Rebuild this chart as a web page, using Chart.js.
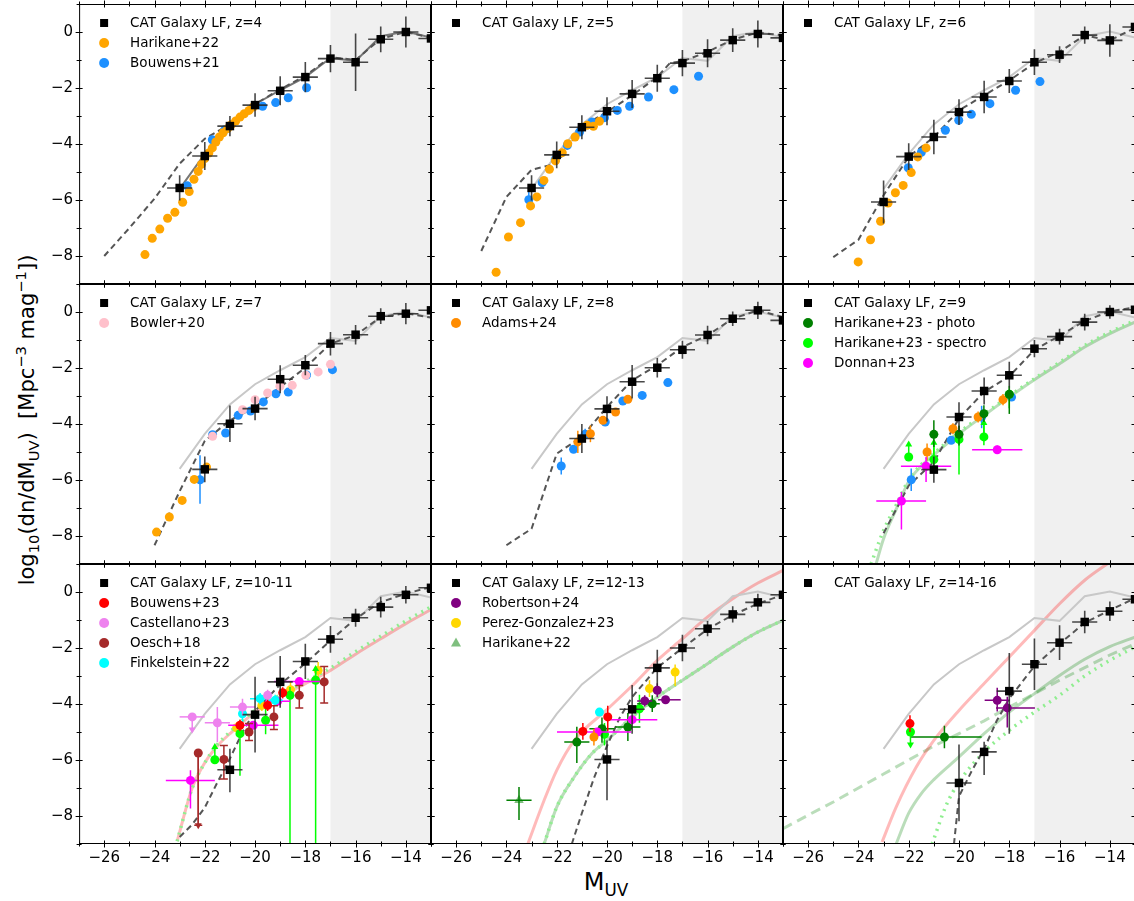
<!DOCTYPE html>
<html>
<head>
<meta charset="utf-8">
<script src="https://cdn.jsdelivr.net/npm/chart.js@4.4.1/dist/chart.umd.min.js"></script>
<style>
  body { margin: 0; width: 1134px; height: 901px; overflow: hidden; background: #fff; position: relative;
         font-family: "DejaVu Sans", sans-serif; color: #000; }
  canvas { position: absolute; }
  #xlabel { position: absolute; left: 606px; top: 884px; transform: translate(-50%, -50%); font-size: 24px; white-space: nowrap; }
  #ylabel { position: absolute; left: 27px; top: 420px; transform: translate(-50%, -50%) rotate(-90deg); font-size: 21px; white-space: nowrap; }
  sub, sup { font-size: 70%; }
</style>
</head>
<body>
<div id="xlabel">M<sub>UV</sub></div>
<div id="ylabel">log<sub>10</sub>(dn/dM<sub>UV</sub>)&nbsp;&nbsp;[Mpc<sup>&minus;3</sup> mag<sup>&minus;1</sup>])</div>
<script>
// ---- axes ----
var x_range = [-27, -13];
var y_range = [-9, 1];
var x_tick_labels = [-26, -24, -22, -20, -18, -16, -14];
var y_tick_labels = [-8, -6, -4, -2, 0];
var faint_limit = -17;

// ---- light grey reference LF (same in every panel) ----
var ref_mag = [-23, -22, -21, -20, -19, -18, -17, -16, -15, -14, -13];
var ref_phi = [-5.6, -4.35, -3.3, -2.58, -2.08, -1.61, -0.93, -1.03, -0.15, 0.02, -0.2];

// ---- CAT galaxy LF points (mag, log phi, y error) ----
var cat_mag_z4 = [-23, -22, -21, -20, -19, -18, -17, -16, -15, -14, -13];
var cat_phi_z4 = [-5.57, -4.43, -3.36, -2.61, -2.10, -1.61, -0.95, -1.08, -0.26, 0.0, -0.23];
var cat_err_z4 = [0.45, 0.5, 0.36, 0.42, 0.52, 0.54, 0.49, 1.03, 0.46, 0.55, 0.3];

var cat_mag_z5 = [-23, -22, -21, -20, -19, -18, -17, -16, -15, -14, -13];
var cat_phi_z5 = [-5.57, -4.39, -3.40, -2.83, -2.21, -1.65, -1.11, -0.76, -0.29, -0.07, -0.21];
var cat_err_z5 = [0.45, 0.48, 0.43, 0.5, 0.5, 0.48, 0.47, 0.5, 0.42, 0.48, 0.3];

var cat_mag_z6 = [-23, -22, -21, -20, -19, -18, -17, -16, -15, -14, -13];
var cat_phi_z6 = [-6.07, -4.45, -3.75, -2.86, -2.32, -1.75, -1.08, -0.81, -0.11, -0.30, 0.18];
var cat_err_z6 = [0.77, 0.48, 0.62, 0.46, 0.58, 0.43, 0.46, 0.3, 0.31, 0.58, 0.3];

var cat_mag_z7 = [-22, -21, -20, -19, -18, -17, -16, -15, -14, -13];
var cat_phi_z7 = [-5.62, -3.99, -3.45, -2.40, -1.90, -1.13, -0.81, -0.15, -0.06, 0.06];
var cat_err_z7 = [0.46, 0.65, 0.42, 0.5, 0.36, 0.42, 0.35, 0.28, 0.38, 0.3];

var cat_mag_z8 = [-21, -20, -19, -18, -17, -16, -15, -14, -13];
var cat_phi_z8 = [-4.52, -3.46, -2.49, -1.99, -1.35, -0.82, -0.24, 0.06, -0.30];
var cat_err_z8 = [0.52, 0.45, 0.6, 0.35, 0.32, 0.33, 0.26, 0.31, 0.25];

var cat_mag_z9 = [-21, -20, -19, -18, -17, -16, -15, -14, -13];
var cat_phi_z9 = [-5.63, -3.75, -2.82, -2.26, -1.31, -0.88, -0.36, 0.0, 0.08];
var cat_err_z9 = [0.47, 0.53, 0.48, 0.48, 0.31, 0.28, 0.3, 0.24, 0.2];

var cat_mag_z10 = [-21, -20, -19, -18, -17, -16, -15, -14, -13];
var cat_phi_z10 = [-6.35, -4.38, -3.21, -2.48, -1.69, -0.92, -0.54, -0.10, 0.15];
var cat_err_z10 = [[0.8, 0.75], 1.35, 0.92, 0.63, 0.48, 0.32, 0.37, 0.31, 0.3];

var cat_mag_z12 = [-20, -19, -18, -17, -16, -15, -14, -13];
var cat_phi_z12 = [-5.98, -4.19, -2.71, -2.0, -1.31, -0.80, -0.37, -0.10];
var cat_err_z12 = [[1.46, 0.68], 0.87, 0.65, 0.47, 0.27, 0.29, 0.31, 0.2];

var cat_mag_z14 = [-20, -19, -18, -17, -16, -15, -14, -13];
var cat_phi_z14 = [-6.82, -5.71, -3.54, -2.58, -1.81, -1.07, -0.69, -0.26];
var cat_err_z14 = [1.37, [0.83, 0.36], [1.52, 1.36], 0.92, 0.62, 0.4, 0.35, 0.2];

// ---- dashed model curves ----
var model_mag_z4 = [-26, -25, -24, -23, -22, -21, -20, -19, -18, -17, -16, -15, -14, -13];
var model_phi_z4 = [-8.0, -7.0, -5.95, -4.7, -3.81, -3.3, -2.57, -2.05, -1.56, -0.9, -1.0, -0.24, 0.0, -0.2];
var model_mag_z5 = [-25, -24, -23, -22, -21, -20, -19, -18, -17.5, -17, -16, -15, -14, -13];
var model_phi_z5 = [-7.82, -5.89, -4.92, -4.70, -3.38, -2.86, -2.26, -1.61, -1.11, -1.05, -0.71, -0.27, -0.02, -0.12];
var model_mag_z6 = [-25, -24, -23, -22, -21, -20, -19, -18, -17, -16, -15, -14, -13];
var model_phi_z6 = [-8.04, -7.42, -5.83, -4.46, -3.75, -2.80, -2.26, -1.73, -1.11, -0.71, -0.12, -0.30, 0.15];
var model_mag_z7 = [-24, -23, -22, -21, -20, -19, -18, -17, -16, -15, -14, -13];
var model_phi_z7 = [-8.33, -6.4, -4.6, -3.87, -3.39, -2.68, -1.99, -1.13, -0.83, -0.18, -0.04, -0.2];
var model_mag_z8 = [-24, -23, -22, -21, -20, -19, -18, -17, -16, -15, -14, -13];
var model_phi_z8 = [-8.33, -7.74, -5.06, -4.46, -3.39, -2.44, -1.90, -1.25, -0.83, -0.24, 0.06, -0.18];
var model_mag_z9 = [-23, -22, -21, -20, -19, -18, -17, -16, -15, -14, -13];
var model_phi_z9 = [-7.9, -6.2, -5.35, -3.8, -2.85, -2.3, -1.35, -0.85, -0.32, 0.02, 0.17];
var model_mag_z10 = [-23, -22.5, -22, -21.5, -21, -20.5, -20, -19, -18, -17, -16, -15, -14, -13];
var model_phi_z10 = [-8.75, -8.3, -7.7, -6.8, -5.95, -5.0, -4.25, -3.3, -2.55, -1.73, -0.95, -0.36, -0.06, 0.18];
var model_mag_z12 = [-21.4, -21, -20.5, -20, -19.5, -19, -18, -17, -16, -15, -14, -13];
var model_phi_z12 = [-9.0, -7.9, -6.6, -5.5, -4.5, -3.75, -2.7, -2.0, -1.33, -0.82, -0.42, -0.1];
var model_mag_z14 = [-20.2, -20, -19.5, -19, -18.5, -18, -17, -16, -15, -14, -13];
var model_phi_z14 = [-9.0, -7.3, -6.4, -5.6, -4.6, -3.8, -2.65, -1.85, -1.1, -0.65, -0.22];

// ---- literature fits (red / green curves) ----
var green_mag_z9 = [-23.3, -23, -22.5, -22, -21.5, -21, -20, -19, -18, -17, -16, -15, -14, -13];
var green_phi_z9 = [-9.0, -8.1, -7.05, -6.05, -5.5, -5.1, -4.35, -3.69, -3.04, -2.42, -1.85, -1.25, -0.77, -0.36];
var dotted_mag_z9 = [-23.5, -23, -22.5, -22, -21.5, -21, -20, -19, -18, -17, -16, -15, -14, -13];
var dotted_phi_z9 = [-9.0, -7.8, -6.9, -6.0, -5.45, -5.05, -4.3, -3.65, -3.0, -2.38, -1.8, -1.2, -0.72, -0.3];

var red_mag_z10 = [-23.1, -22.5, -22, -21.5, -21, -20, -19, -18, -17, -16, -15, -14, -13];
var red_phi_z10 = [-8.9, -7.0, -6.1, -5.5, -5.06, -4.29, -3.75, -3.27, -2.80, -2.22, -1.67, -1.13, -0.63];
var dotted_mag_z10 = [-23.1, -22.5, -22, -21.5, -21, -20, -19, -18, -17, -16, -15, -14, -13];
var dotted_phi_z10 = [-8.9, -7.0, -6.1, -5.45, -5.0, -4.22, -3.68, -3.2, -2.72, -2.13, -1.58, -1.03, -0.53];

var red_mag_z12 = [-23.15, -22.5, -22, -21.3, -20, -19, -18, -17, -16, -15, -14, -13];
var red_phi_z12 = [-9.0, -7.44, -6.37, -5.3, -4.2, -3.35, -2.44, -1.67, -0.89, -0.24, 0.32, 0.77];
var green_mag_z12 = [-22.5, -22, -21.3, -20.6, -20, -19, -18, -17, -16, -15, -14, -13];
var green_phi_z12 = [-9.0, -7.68, -6.6, -5.77, -5.3, -4.46, -3.75, -3.15, -2.56, -1.96, -1.43, -1.01];

var red_mag_z14 = [-23.06, -22.5, -21.7, -21, -20, -19, -18, -17, -16, -15, -14.1];
var red_phi_z14 = [-8.93, -7.68, -6.25, -5.3, -4.23, -3.27, -2.32, -1.37, -0.42, 0.42, 1.01];
var green_mag_z14 = [-22.5, -22, -21.5, -21, -20, -19, -18, -17, -16, -15, -14, -13];
var green_phi_z14 = [-9.0, -7.9, -7.2, -6.7, -5.89, -5.06, -4.29, -3.63, -2.98, -2.4, -1.95, -1.61];
var gdash_mag_z14 = [-27, -26, -25, -24, -23, -22, -21, -20, -19, -18, -17, -16, -15, -14, -13];
var gdash_phi_z14 = [-8.45, -7.97, -7.5, -7.0, -6.5, -6.0, -5.5, -5.06, -4.6, -4.11, -3.63, -3.15, -2.7, -2.25, -1.85];
var dotted_mag_z14 = [-21.07, -20.5, -20, -19, -18, -17, -16, -15, -14, -13];
var dotted_phi_z14 = [-9.0, -7.6, -6.79, -5.71, -4.94, -4.29, -3.69, -3.0, -2.44, -1.96];

// ---- observations: [mag, log phi, yerr lo, yerr hi, xerr lo, xerr hi, limit] ----
var harikane22_z4 = [[-24.38, -7.95], [-24.09, -7.37], [-23.79, -7.04], [-23.48, -6.65], [-23.19, -6.44],
    [-22.88, -6.08], [-22.62, -5.70], [-22.43, -5.26], [-22.26, -4.98], [-22.13, -4.73], [-22.0, -4.52],
    [-21.84, -4.32], [-21.70, -4.14], [-21.56, -3.93], [-21.42, -3.75], [-21.27, -3.60], [-21.09, -3.45],
    [-20.93, -3.30], [-20.77, -3.18], [-20.60, -3.04], [-20.43, -2.92], [-20.24, -2.80], [-20.07, -2.68]];
var bouwens21_z4 = [[-22.70, -5.49], [-21.70, -3.85], [-21.20, -3.49], [-19.70, -2.65], [-19.18, -2.52],
    [-18.68, -2.35], [-17.95, -1.99]];

var harikane22_z5 = [[-24.41, -8.58], [-23.92, -7.32], [-23.44, -6.81], [-23.04, -6.21], [-22.79, -5.89],
    [-22.51, -5.30], [-22.29, -4.90], [-22.05, -4.6], [-21.78, -4.31], [-21.56, -3.99], [-21.27, -3.75],
    [-20.79, -3.33], [-20.54, -3.37], [-20.30, -3.19]];
var bouwens21_z5 = [[-23.11, -5.99, 0.3, 0.3], [-22.58, -5.38], [-22.06, -4.56], [-21.58, -4.05], [-21.09, -3.57],
    [-20.60, -3.21], [-20.10, -3.06], [-19.59, -2.80], [-19.10, -2.65], [-18.35, -2.32], [-17.34, -2.06], [-16.36, -1.58]];

var harikane22_z6 = [[-24.01, -8.21], [-23.52, -7.42], [-23.12, -6.76], [-22.82, -6.11], [-22.53, -5.74],
    [-22.22, -5.48], [-21.90, -5.02], [-21.64, -4.46], [-21.31, -4.14]];
var bouwens21_z6 = [[-22.02, -4.85], [-21.50, -4.30], [-20.54, -3.51], [-20.01, -3.15], [-19.51, -2.94],
    [-18.77, -2.56], [-17.75, -2.08], [-16.78, -1.77]];

var harikane22_z7 = [[-23.92, -7.86], [-23.41, -7.32], [-22.90, -6.73], [-22.42, -5.98], [-21.93, -5.54]];
var bowler20_z7 = [[-21.69, -4.44], [-20.50, -3.49], [-20.0, -3.13], [-19.50, -2.89], [-19.01, -2.65],
    [-18.52, -2.62], [-17.98, -2.26], [-17.49, -2.14], [-17.0, -1.87]];
var bouwens21_z7 = [[-22.19, -5.99, 0.86, 0.87], [-21.69, -4.38], [-21.17, -4.32], [-20.67, -3.69], [-20.18, -3.54],
    [-19.67, -3.21], [-19.17, -2.92], [-18.68, -2.86], [-17.95, -2.25], [-16.92, -2.06]];

var adams24_z8 = [[-21.16, -4.64, 0.4, 0.4], [-20.66, -4.35, 0.3, 0.3], [-20.16, -3.87], [-19.66, -3.57], [-19.17, -3.12]];
var bouwens21_z8 = [[-21.82, -5.50, 0.3, 0.3], [-21.33, -4.90], [-20.87, -4.37, 0.2, 0.2], [-20.07, -3.93],
    [-19.37, -3.18], [-18.60, -2.98], [-17.58, -2.52]];

var harikane23p_z9 = [[-21.0, -4.37, 0.45, 0.5], [-20.0, -4.37, 0.4, 0.3], [-19.01, -3.63, 0.3, 0.3], [-18.0, -2.94, 0.7, 0.2]];
var harikane23s_z9 = [[-22.0, -5.18, 0, 0, 0, 0, 'up'], [-21.0, -5.27, 0.3, 0.6, 0, 0, 'up'], [-20.0, -4.55, 1.25, 0.5],
    [-19.01, -4.46, 0.3, 0.5, 0, 0, 'up'], [-18.0, -2.94, 0.5, 0.3]];
var donnan23_z9 = [[-22.29, -6.75, 1.02, 0.32, 1.0, 0.98], [-21.31, -5.51, 0.56, 0.33, 1.0, 1.0], [-18.48, -4.92, 0.15, 0.15, 1.0, 1.0]];
var adams24_z9 = [[-21.27, -5.0, 0.3, 0.3], [-20.24, -4.17, 0.2, 0.2], [-19.24, -3.75, 0.2, 0.2], [-18.25, -3.13, 0.2, 0.2]];
var bouwens_z9 = [[-21.90, -5.99, 0.4, 0.4], [-20.31, -4.58], [-19.10, -3.75, 0.4, 0.4], [-17.91, -3.04]];

var bouwens23_z10 = [[-20.6, -4.76, 0.2, 0.2], [-19.5, -4.05, 0.2, 0.2], [-18.9, -3.6, 0.2, 0.2]];
var castellano23_z10 = [[-22.5, -4.46, 0, 0, 0.5, 0.5, 'down'], [-21.5, -4.67, 0.69, 0.56, 0.5, 0.5],
    [-20.5, -4.11, 0.3, 0.3, 0.5, 0.5], [-19.5, -3.69, 0.2, 0.2]];
var oesch18_z10 = [[-22.26, -5.75, 2.58, 0, 0, 0, 'down'], [-21.24, -5.98, 0.7, 0.5], [-20.24, -5.0, 0.3, 0.3],
    [-19.25, -4.46, 0.45, 0.4], [-18.24, -3.69, 0.45, 0.35], [-17.25, -3.21, 0.75, 0.55]];
var finkelstein22_z10 = [[-20.5, -4.35, 0.3, 0.3], [-19.8, -3.81, 0.2, 0.2, 0.4, 0.4], [-19.2, -3.87, 0.2, 0.2, 0.3, 0.3]];
var donnan23_z10 = [[-22.57, -6.73, 1.0, 0.36, 0.98, 0.97], [-20.07, -4.76, 0, 0, 1.0, 1.0], [-19.1, -3.9, 0, 0, 0.5, 0.5],
    [-18.24, -3.2, 0, 0, 1.0, 1.0]];
var harikane23s_z10 = [[-21.6, -5.99, 0, 0, 0, 0, 'up'], [-20.6, -5.06, 1.5, 0.5], [-19.58, -4.58, 0.5, 0.5],
    [-18.61, -3.69, 6.0, 0.3], [-17.59, -3.15, 6.0, 0.4, 0, 0, 'up']];
var orange_z10 = [[-20.73, -4.85, 0.2, 0.2], [-19.73, -4.05, 0.2, 0.2], [-18.59, -3.49, 0.3, 0.3], [-17.49, -2.8, 0.3, 0.3]];

var robertson24_z12 = [[-18.5, -3.89, 0.2, 0.2, 0.3, 0.3], [-18.0, -3.51, 0.25, 0.25], [-17.67, -3.85, 0, 0, 0.3, 0.6]];
var perez23_z12 = [[-17.29, -2.86, 0.5, 0.27], [-18.31, -3.45, 0.3, 0.3]];
var harikane22_z12 = [[-23.5, -7.44, 0.7, 0.48, 0.5, 0.5]];
var red_pts_z12 = [[-20.96, -4.98, 0.3, 0.3], [-19.97, -4.46, 0.5, 0.4]];
var cyan_pts_z12 = [[-20.30, -4.29]];
var orange_pts_z12 = [[-20.52, -5.18, 0.3, 0.3]];
var magenta_pts_z12 = [[-20.39, -5.0, 0, 0, 1.6, 1.35], [-19.0, -4.56, 0, 0, 1.0, 1.0]];
var green_pts_z12 = [[-21.2, -5.36, 0.75, 0.55, 0.5, 0.5], [-20.2, -4.88, 0.5, 0.4, 0.5, 0.5],
    [-19.17, -4.82, 0.5, 0.5, 0.5, 0.5], [-18.2, -3.99, 0.3, 0.3, 0.6, 0.3]];
var lime_pts_z12 = [[-20.1, -5.08, 0.4, 0.4], [-18.71, -4.17, 0.5, 0.5]];

var red_pts_z14 = [[-21.95, -4.70, 0.3, 0.3]];
var lime_pts_z14 = [[-21.93, -5.0, 0, 0, 0, 0, 'down']];
var green_pts_z14 = [[-20.58, -5.18, 0.4, 0.4, 1.36, 1.48]];
var purple_pts_z14 = [[-18.48, -3.87, 0.4, 0.45, 0.5, 0.5], [-18.08, -4.14, 0.7, 0.4, 0.45, 1.1]];

// ---- colours ----
var c_orange = '#ffa500', c_blue = '#1e90ff', c_pink = '#ffc0cb', c_dorange = '#ff8c00';
var c_green = '#008000', c_lime = '#00ff00', c_magenta = '#ff00ff', c_red = '#ff0000';
var c_violet = '#ee82ee', c_brown = '#a52a2a', c_cyan = '#00ffff', c_purple = '#800080', c_gold = '#ffd700';
var c_tri = 'rgba(0,128,0,0.5)';
var c_redfit = 'rgba(255,0,0,0.27)', c_greenfit = 'rgba(0,128,0,0.27)', c_dotfit = '#90ee90';

var PX0 = 79, PY0 = 4, PW = 352, PH = 280;

function to_xy(mags, phis) {
    return mags.map(function (m, i) { return {x: m, y: phis[i]}; });
}

function line_set(mags, phis, color, width, dash, order, smooth) {
    return {
        data: to_xy(mags, phis), showLine: true, borderColor: color, borderWidth: width,
        borderDash: dash || [], pointRadius: 0, order: order,
        cubicInterpolationMode: smooth ? 'monotone' : 'default'
    };
}

function obs_set(rows, color, label, style) {
    return {
        data: rows.map(function (r) { return {x: r[0], y: r[1]}; }),
        errors: rows.map(function (r) { return r.slice(2); }),
        pointStyle: style || 'circle', pointRadius: style === 'triangle' ? 5.5 : 4.5,
        pointBackgroundColor: color, pointBorderWidth: 0,
        errColor: color, errWidth: 1.5, legendLabel: label, order: 5
    };
}

function cat_set(mags, phis, errs, label) {
    return {
        data: to_xy(mags, phis),
        errors: errs.map(function (e) {
            var lo = Array.isArray(e) ? e[0] : e, hi = Array.isArray(e) ? e[1] : e;
            return [lo, hi, 0.5, 0.5];
        }),
        pointStyle: 'rect', pointRadius: 6, pointBackgroundColor: '#000', pointBorderWidth: 0,
        errColor: 'rgba(40,40,40,0.85)', errWidth: 1.6, legendLabel: label, order: 0
    };
}

function ref_set(color) {
    return line_set(ref_mag, ref_phi, color || '#c8c8c8', 2, [], 19);
}

var panels = [
    [cat_set(cat_mag_z4, cat_phi_z4, cat_err_z4, 'CAT Galaxy LF, z=4'),
     obs_set(harikane22_z4, c_orange, 'Harikane+22'), obs_set(bouwens21_z4, c_blue, 'Bouwens+21'),
     ref_set('#777'), line_set(model_mag_z4, model_phi_z4, '#555', 2, [6, 4], 18)],
    [cat_set(cat_mag_z5, cat_phi_z5, cat_err_z5, 'CAT Galaxy LF, z=5'),
     obs_set(harikane22_z5, c_orange), obs_set(bouwens21_z5, c_blue),
     ref_set(), line_set(model_mag_z5, model_phi_z5, '#555', 2, [6, 4], 18)],
    [cat_set(cat_mag_z6, cat_phi_z6, cat_err_z6, 'CAT Galaxy LF, z=6'),
     obs_set(harikane22_z6, c_orange), obs_set(bouwens21_z6, c_blue),
     ref_set(), line_set(model_mag_z6, model_phi_z6, '#555', 2, [6, 4], 18)],
    [cat_set(cat_mag_z7, cat_phi_z7, cat_err_z7, 'CAT Galaxy LF, z=7'),
     obs_set(bowler20_z7, c_pink, 'Bowler+20'), obs_set(harikane22_z7, c_orange), obs_set(bouwens21_z7, c_blue),
     ref_set(), line_set(model_mag_z7, model_phi_z7, '#555', 2, [6, 4], 18)],
    [cat_set(cat_mag_z8, cat_phi_z8, cat_err_z8, 'CAT Galaxy LF, z=8'),
     obs_set(adams24_z8, c_dorange, 'Adams+24'), obs_set(bouwens21_z8, c_blue),
     ref_set(), line_set(model_mag_z8, model_phi_z8, '#555', 2, [6, 4], 18)],
    [cat_set(cat_mag_z9, cat_phi_z9, cat_err_z9, 'CAT Galaxy LF, z=9'),
     obs_set(harikane23p_z9, c_green, 'Harikane+23 - photo'), obs_set(harikane23s_z9, c_lime, 'Harikane+23 - spectro'),
     obs_set(donnan23_z9, c_magenta, 'Donnan+23'), obs_set(adams24_z9, c_dorange), obs_set(bouwens_z9, c_blue),
     ref_set(), line_set(model_mag_z9, model_phi_z9, '#555', 2, [6, 4], 18),
     line_set(green_mag_z9, green_phi_z9, c_greenfit, 3, [], 21, true),
     line_set(dotted_mag_z9, dotted_phi_z9, c_dotfit, 3.5, [2, 5], 20, true)],
    [cat_set(cat_mag_z10, cat_phi_z10, cat_err_z10, 'CAT Galaxy LF, z=10-11'),
     obs_set(bouwens23_z10, c_red, 'Bouwens+23'), obs_set(castellano23_z10, c_violet, 'Castellano+23'),
     Object.assign(obs_set(oesch18_z10, c_brown, 'Oesch+18'), {errCap: 4}),
     obs_set(finkelstein22_z10, c_cyan, 'Finkelstein+22'),
     obs_set(donnan23_z10, c_magenta), obs_set(harikane23s_z10, c_lime), obs_set(orange_z10, c_gold),
     ref_set(), line_set(model_mag_z10, model_phi_z10, '#555', 2, [6, 4], 18),
     line_set(red_mag_z10, red_phi_z10, c_redfit, 3, [], 21, true),
     line_set(dotted_mag_z10, dotted_phi_z10, c_dotfit, 3.5, [2, 5], 20, true)],
    [cat_set(cat_mag_z12, cat_phi_z12, cat_err_z12, 'CAT Galaxy LF, z=12-13'),
     obs_set(robertson24_z12, c_purple, 'Robertson+24'), obs_set(perez23_z12, c_gold, 'Perez-Gonzalez+23'),
     Object.assign(obs_set(harikane22_z12, c_tri, 'Harikane+22', 'triangle'), {errColor: c_green}),
     obs_set(red_pts_z12, c_red), obs_set(cyan_pts_z12, c_cyan), obs_set(orange_pts_z12, c_dorange),
     obs_set(magenta_pts_z12, c_magenta), obs_set(green_pts_z12, c_green), obs_set(lime_pts_z12, c_lime),
     ref_set(), line_set(model_mag_z12, model_phi_z12, '#555', 2, [6, 4], 18),
     line_set(red_mag_z12, red_phi_z12, c_redfit, 3, [], 21, true),
     line_set(green_mag_z12, green_phi_z12, c_greenfit, 3, [], 21, true),
     line_set(green_mag_z12, green_phi_z12, c_dotfit, 3.5, [2, 5], 20, true)],
    [cat_set(cat_mag_z14, cat_phi_z14, cat_err_z14, 'CAT Galaxy LF, z=14-16'),
     obs_set(red_pts_z14, c_red), obs_set(lime_pts_z14, c_lime), obs_set(green_pts_z14, c_green),
     obs_set(purple_pts_z14, c_purple),
     ref_set(), line_set(model_mag_z14, model_phi_z14, '#555', 2, [6, 4], 18),
     line_set(red_mag_z14, red_phi_z14, c_redfit, 3, [], 21, true),
     line_set(green_mag_z14, green_phi_z14, c_greenfit, 3, [], 21, true),
     line_set(gdash_mag_z14, gdash_phi_z14, c_greenfit, 3, [10, 6], 21),
     line_set(dotted_mag_z14, dotted_phi_z14, c_dotfit, 3.5, [2, 5], 20, true)]
];

function minus(v) {
    return String(v).replace('-', '\u2212');
}

function draw_marker(ctx, style, color, x, y) {
    ctx.fillStyle = color;
    ctx.beginPath();
    if (style === 'rect') {
        ctx.rect(x - 4, y - 4, 8, 8);
    } else if (style === 'triangle') {
        ctx.moveTo(x, y - 5.5); ctx.lineTo(x + 5, y + 3.5); ctx.lineTo(x - 5, y + 3.5); ctx.closePath();
    } else {
        ctx.arc(x, y, 5, 0, Math.PI * 2);
    }
    ctx.fill();
}

var panel_plugin = {
    id: 'panel_plugin',
    beforeDatasetsDraw: function (chart) {
        var a = chart.chartArea, ctx = chart.ctx, x = chart.scales.x;
        var x0 = x.getPixelForValue(faint_limit);
        ctx.save();
        ctx.fillStyle = '#f0f0f0';
        ctx.fillRect(x0, a.top, a.right - x0, a.bottom - a.top);
        ctx.restore();
    },
    beforeDatasetDraw: function (chart, args) {
        var ds = chart.data.datasets[args.index];
        if (!ds.errors) return;
        var a = chart.chartArea, ctx = chart.ctx, xs = chart.scales.x, ys = chart.scales.y;
        ctx.save();
        ctx.beginPath();
        ctx.rect(a.left, a.top, a.right - a.left, a.bottom - a.top);
        ctx.clip();
        ctx.strokeStyle = ds.errColor;
        ctx.fillStyle = ds.errColor;
        ctx.lineWidth = ds.errWidth;
        ds.errors.forEach(function (e, i) {
            var p = ds.data[i];
            var ylo = e[0] || 0, yhi = e[1] || 0, xlo = e[2] || 0, xhi = e[3] || 0, lim = e[4];
            var px = xs.getPixelForValue(p.x), py = ys.getPixelForValue(p.y);
            ctx.beginPath();
            if (ylo || yhi) {
                ctx.moveTo(px, ys.getPixelForValue(p.y - ylo));
                ctx.lineTo(px, ys.getPixelForValue(p.y + yhi));
            }
            if (xlo || xhi) {
                ctx.moveTo(xs.getPixelForValue(p.x - xlo), py);
                ctx.lineTo(xs.getPixelForValue(p.x + xhi), py);
            }
            ctx.stroke();
            if (ds.errCap && (ylo || yhi)) {
                ctx.beginPath();
                [p.y - ylo, p.y + yhi].forEach(function (v) {
                    var yy = ys.getPixelForValue(v);
                    ctx.moveTo(px - ds.errCap, yy); ctx.lineTo(px + ds.errCap, yy);
                });
                ctx.stroke();
            }
            if (lim) {
                var end = lim === 'up' ? (yhi ? p.y + yhi : p.y + 0.45) : (ylo ? p.y - ylo : p.y - 0.45);
                var ey = ys.getPixelForValue(end), dir = lim === 'up' ? -1 : 1;
                ctx.beginPath();
                ctx.moveTo(px, py); ctx.lineTo(px, ey); ctx.stroke();
                ctx.beginPath();
                ctx.moveTo(px, ey + dir * 4);
                ctx.lineTo(px - 3.5, ey - dir * 2);
                ctx.lineTo(px + 3.5, ey - dir * 2);
                ctx.closePath();
                ctx.fill();
            }
        });
        ctx.restore();
    },
    afterDraw: function (chart) {
        var a = chart.chartArea, ctx = chart.ctx, xs = chart.scales.x, ys = chart.scales.y;
        ctx.save();
        ctx.strokeStyle = '#000';
        ctx.lineWidth = 1;
        ctx.strokeRect(a.left + 0.5, a.top + 0.5, a.right - a.left - 1, a.bottom - a.top - 1);
        ctx.beginPath();
        var v, p, len;
        for (v = x_range[0]; v <= x_range[1]; v++) {
            p = Math.round(xs.getPixelForValue(v)) + 0.5;
            len = v % 2 === 0 ? 3.5 : 2.5;
            ctx.moveTo(p, a.bottom - len); ctx.lineTo(p, a.bottom + len);
            ctx.moveTo(p, a.top - len); ctx.lineTo(p, a.top + len);
        }
        for (v = y_range[0]; v <= y_range[1]; v++) {
            p = Math.round(ys.getPixelForValue(v)) + 0.5;
            len = v % 2 === 0 ? 3.5 : 2.5;
            ctx.moveTo(a.left - len, p); ctx.lineTo(a.left + len, p);
            ctx.moveTo(a.right - len, p); ctx.lineTo(a.right + len, p);
        }
        ctx.stroke();

        // legend, top-left inside the axes
        var items = chart.data.datasets.filter(function (d) { return d.legendLabel; });
        ctx.font = '13.5px "DejaVu Sans"';
        ctx.textBaseline = 'middle';
        ctx.textAlign = 'left';
        items.forEach(function (d, i) {
            var yy = a.top + 19 + 20 * i;
            draw_marker(ctx, d.pointStyle, d.pointBackgroundColor, a.left + 25, yy);
            ctx.fillStyle = '#000';
            ctx.fillText(d.legendLabel, a.left + 51, yy);
        });
        ctx.restore();
    }
};

function make_chart(cv, datasets, r, c) {
    var tick_font = {family: 'DejaVu Sans', size: 15};
    var x_scale = {
        type: 'linear', min: x_range[0], max: x_range[1], bounds: 'data', display: r === 2,
        grid: {display: false, drawTicks: false}, border: {display: false},
        afterBuildTicks: function (s) { s.ticks = x_tick_labels.map(function (v) { return {value: v}; }); },
        ticks: {padding: 5, color: '#000', font: tick_font, maxRotation: 0, autoSkip: false, callback: minus}
    };
    var y_scale = {
        type: 'linear', min: y_range[0], max: y_range[1], bounds: 'data', display: c === 0,
        grid: {display: false, drawTicks: false}, border: {display: false},
        afterBuildTicks: function (s) { s.ticks = y_tick_labels.map(function (v) { return {value: v}; }); },
        ticks: {padding: 6, color: '#000', font: tick_font, autoSkip: false, callback: minus}
    };
    return new Chart(cv, {
        type: 'scatter',
        data: {datasets: datasets},
        options: {
            responsive: false, maintainAspectRatio: false, animation: false, devicePixelRatio: 1,
            layout: {autoPadding: false, padding: 6},
            plugins: {legend: {display: false}, tooltip: {enabled: false}},
            scales: {x: x_scale, y: y_scale}
        },
        plugins: [panel_plugin]
    });
}

panels.forEach(function (datasets, idx) {
    var r = Math.floor(idx / 3), c = idx % 3;
    var cv = document.createElement('canvas');
    cv.width = PW + (c === 0 ? 70 : 12);
    cv.height = PH + (r === 2 ? 50 : 12);
    document.body.appendChild(cv);
    var chart = make_chart(cv, datasets, r, c);
    // grow the canvas so the plotting area is exactly PW x PH, then place it on the grid
    var a = chart.chartArea;
    var w = cv.width + PW - (a.right - a.left), h = cv.height + PH - (a.bottom - a.top);
    chart.destroy();
    cv.width = w;
    cv.height = h;
    chart = make_chart(cv, datasets, r, c);
    a = chart.chartArea;
    cv.style.left = (PX0 + c * PW - a.left) + 'px';
    cv.style.top = (PY0 + r * PH - a.top) + 'px';
});
</script>
</body>
</html>
